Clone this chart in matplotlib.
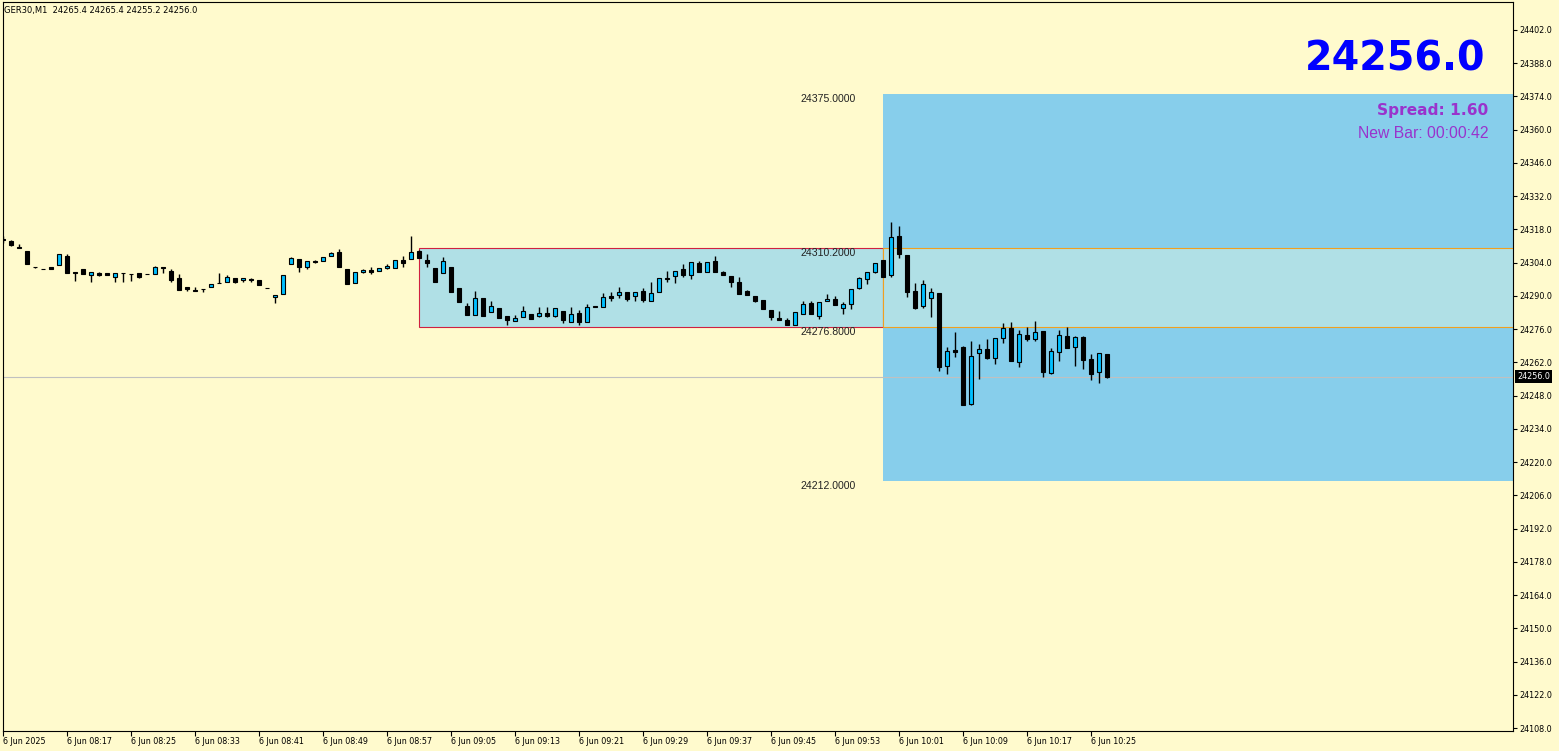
import numpy as np
import matplotlib
matplotlib.use('Agg')
import matplotlib.pyplot as plt
from matplotlib.patches import Rectangle
from matplotlib.transforms import blended_transform_factory, ScaledTranslation

W, H = 1559, 751
BG = '#FFFACD'
BULL = '#00BFFF'

symbol = 'GER30,M1'
time_labels = ['6 Jun 2025', '6 Jun 08:17', '6 Jun 08:25', '6 Jun 08:33', '6 Jun 08:41',
               '6 Jun 08:49', '6 Jun 08:57', '6 Jun 09:05', '6 Jun 09:13', '6 Jun 09:21',
               '6 Jun 09:29', '6 Jun 09:37', '6 Jun 09:45', '6 Jun 09:53', '6 Jun 10:01',
               '6 Jun 10:09', '6 Jun 10:17', '6 Jun 10:25']

# M1 candles, 08:09 .. 10:27
opens = [24313.8, 24313.1, 24310.4, 24308.9, 24302.1, 24301.4, 24302.2, 24302.9, 24306.8, 24300.0,
         24301.2, 24298.7, 24299.8, 24299.6, 24297.8, 24299.6, 24299.2, 24299.6, 24299.3, 24299.1,
         24302.0, 24300.5, 24297.5, 24293.6, 24292.5, 24292.9, 24293.6, 24295.3, 24295.7, 24297.4,
         24296.6, 24297.0, 24296.7, 24293.2, 24289.4, 24290.7, 24303.3, 24305.4, 24302.0, 24304.7,
         24304.6, 24306.7, 24308.5, 24301.2, 24295.3, 24299.9, 24300.9, 24300.3, 24301.5, 24301.6,
         24305.1, 24305.3, 24309.0, 24305.1, 24301.6, 24299.5, 24302.3, 24293.2, 24285.7, 24281.9,
         24288.9, 24283.1, 24285.0, 24281.4, 24279.3, 24281.2, 24282.4, 24281.4, 24282.6, 24281.5,
         24283.6, 24278.9, 24282.6, 24278.9, 24285.7, 24285.4, 24289.9, 24290.2, 24291.5, 24289.8,
         24292.0, 24287.6, 24291.8, 24297.5, 24298.2, 24301.2, 24298.8, 24303.7, 24300.2, 24304.7,
         24300.2, 24298.4, 24295.6, 24292.1, 24289.9, 24288.1, 24284.0, 24280.7, 24279.7, 24277.7,
         24282.2, 24287.1, 24281.5, 24287.6, 24288.5, 24284.7, 24286.4, 24293.2, 24297.0, 24300.2,
         24305.1, 24298.7, 24315.2, 24307.2, 24292.1, 24285.5, 24289.0, 24291.1, 24260.3, 24267.2,
         24268.5, 24244.6, 24265.7, 24267.5, 24264.0, 24272.4, 24276.5, 24262.3, 24273.5, 24271.6,
         24275.2, 24257.5, 24266.5, 24273.1, 24268.3, 24272.7, 24263.4, 24257.7, 24265.4]
highs = [24315.0, 24313.3, 24311.9, 24308.9, 24302.1, 24301.4, 24302.2, 24307.6, 24307.6, 24300.0,
         24301.2, 24299.9, 24300.2, 24299.6, 24299.6, 24299.6, 24299.2, 24299.6, 24299.3, 24302.6,
         24302.0, 24301.2, 24299.1, 24293.6, 24293.6, 24292.9, 24294.9, 24299.8, 24298.7, 24297.4,
         24297.4, 24297.4, 24296.7, 24293.2, 24290.2, 24298.8, 24306.4, 24305.4, 24304.6, 24305.1,
         24306.2, 24308.6, 24309.6, 24301.2, 24299.9, 24301.3, 24302.0, 24301.6, 24303.4, 24305.0,
         24306.8, 24315.2, 24309.2, 24307.6, 24301.6, 24306.5, 24302.3, 24293.2, 24287.1, 24292.2,
         24288.9, 24287.8, 24285.0, 24281.4, 24281.8, 24285.7, 24282.4, 24285.2, 24285.2, 24284.7,
         24283.6, 24285.2, 24284.0, 24286.6, 24285.7, 24291.1, 24291.5, 24293.6, 24291.5, 24291.5,
         24293.2, 24295.7, 24297.4, 24300.5, 24300.6, 24303.3, 24304.1, 24304.8, 24304.1, 24306.8,
         24300.6, 24298.4, 24297.8, 24292.5, 24289.9, 24288.1, 24284.0, 24283.6, 24280.5, 24283.3,
         24288.0, 24287.8, 24287.3, 24290.8, 24289.7, 24287.3, 24292.8, 24297.8, 24299.9, 24303.7,
         24305.1, 24321.0, 24319.4, 24307.2, 24295.3, 24296.7, 24293.2, 24291.1, 24268.6, 24274.8,
         24268.9, 24271.0, 24269.8, 24271.8, 24272.1, 24278.4, 24278.9, 24275.4, 24276.9, 24279.4,
         24275.2, 24267.9, 24275.5, 24276.9, 24273.0, 24273.1, 24265.5, 24265.8, 24265.4]
lows = [24312.1, 24311.0, 24310.1, 24303.3, 24301.9, 24301.2, 24301.2, 24302.9, 24299.5, 24296.4,
        24299.1, 24296.0, 24298.5, 24298.7, 24295.7, 24296.0, 24296.4, 24297.4, 24299.2, 24299.1,
        24299.5, 24296.0, 24292.6, 24292.2, 24291.9, 24291.8, 24293.6, 24295.3, 24295.7, 24295.3,
        24296.0, 24296.0, 24294.7, 24293.2, 24287.1, 24290.7, 24303.3, 24300.2, 24301.2, 24303.7,
        24304.6, 24306.7, 24302.3, 24294.9, 24295.3, 24299.5, 24299.2, 24300.3, 24301.2, 24301.6,
        24302.3, 24305.3, 24305.8, 24302.0, 24296.0, 24299.5, 24291.8, 24287.3, 24281.7, 24281.9,
        24281.6, 24283.1, 24280.8, 24277.7, 24279.3, 24281.2, 24280.4, 24281.0, 24281.0, 24281.0,
        24278.4, 24278.9, 24277.7, 24278.9, 24285.2, 24285.4, 24287.6, 24289.0, 24287.6, 24287.8,
        24287.3, 24287.6, 24291.8, 24296.0, 24295.3, 24297.7, 24297.0, 24299.9, 24300.2, 24299.9,
        24298.8, 24293.6, 24290.7, 24290.2, 24287.3, 24284.3, 24279.6, 24279.7, 24277.7, 24277.7,
        24282.2, 24282.2, 24280.4, 24287.6, 24286.2, 24282.2, 24284.3, 24292.8, 24294.9, 24299.8,
        24298.1, 24297.7, 24305.7, 24289.3, 24284.5, 24285.0, 24281.2, 24258.4, 24257.1, 24264.1,
        24244.0, 24244.1, 24255.1, 24263.4, 24261.3, 24270.3, 24262.7, 24259.8, 24271.0, 24271.0,
        24256.0, 24257.1, 24262.7, 24268.2, 24260.6, 24259.2, 24254.6, 24253.4, 24255.2]
closes = [24313.6, 24311.2, 24310.2, 24303.3, 24302.0, 24301.3, 24301.2, 24307.6, 24299.5, 24299.7,
          24299.1, 24299.9, 24298.9, 24298.7, 24299.6, 24299.4, 24299.0, 24297.8, 24299.2, 24302.0,
          24301.5, 24296.7, 24292.6, 24293.0, 24291.9, 24292.8, 24294.9, 24295.3, 24297.8, 24296.0,
          24297.4, 24296.5, 24294.7, 24293.2, 24290.2, 24298.8, 24305.9, 24302.3, 24304.6, 24304.1,
          24306.2, 24308.1, 24302.3, 24294.9, 24299.9, 24300.9, 24300.2, 24301.6, 24302.6, 24305.0,
          24304.0, 24308.4, 24305.8, 24303.7, 24296.0, 24304.8, 24291.8, 24287.3, 24281.7, 24288.9,
          24281.6, 24285.7, 24280.8, 24279.6, 24280.8, 24283.6, 24280.4, 24282.8, 24281.5, 24284.7,
          24279.8, 24282.4, 24278.9, 24285.2, 24285.2, 24289.4, 24289.1, 24291.5, 24288.8, 24291.5,
          24288.3, 24291.1, 24297.4, 24296.9, 24300.6, 24298.9, 24304.1, 24299.9, 24304.1, 24299.9,
          24298.8, 24295.7, 24290.7, 24290.2, 24288.0, 24284.3, 24281.2, 24279.7, 24277.7, 24283.3,
          24286.4, 24282.2, 24287.3, 24288.5, 24286.2, 24286.4, 24292.8, 24297.4, 24299.9, 24303.7,
          24298.1, 24314.7, 24307.4, 24291.8, 24285.0, 24294.9, 24291.6, 24259.8, 24266.8, 24266.5,
          24244.2, 24264.7, 24267.5, 24264.0, 24272.1, 24276.3, 24262.7, 24273.8, 24271.6, 24274.6,
          24258.1, 24266.7, 24273.4, 24268.2, 24272.7, 24263.1, 24257.2, 24265.8, 24256.0]

box_hi, box_lo = 24310.2, 24276.8
range_hi, range_lo = 24375.0, 24212.0
box_start, box_end = 52, 110
last_price = 24256.0
spread = 1.60
new_bar = '00:00:42'
price_ticks = list(range(24108, 24403, 14))

fig = plt.figure(figsize=(W / 100, H / 100), dpi=100, facecolor=BG)
ax = fig.add_axes([2.7 / W, 1 - 730.5 / H, (1513 - 2.7) / W, (730.5 - 2) / H])
ax.set_facecolor(BG)
ax.set_xlim(-0.04, 188.75)
ax.set_ylim(24106.95, 24413.7)

# zones
ax.add_patch(Rectangle((box_end, range_lo), 200, range_hi - range_lo,
                       fc='#87CEEB', ec='none', zorder=0.5))
ax.add_patch(Rectangle((box_end, box_lo), 200, box_hi - box_lo,
                       fc='#B0E0E6', ec='#F0A020', lw=0.8, zorder=0.7))
ax.add_patch(Rectangle((box_start, box_lo), box_end - box_start, box_hi - box_lo,
                       fc='#B0E0E6', ec='#D02040', lw=0.8, zorder=0.6))
ax.axhline(last_price, color='#C0C0C0', lw=0.8, zorder=1)

lbl_x = 106.6
for v in (range_hi, box_hi, box_lo, range_lo):
    ax.text(lbl_x, v, f'{v:.4f}', ha='right', va='top', fontsize=7.6,
            family='Liberation Sans', color='#222222', zorder=2)

# candles
x = np.arange(len(opens))
o = np.array(opens)
c = np.array(closes)
up = c >= o
body_lo = np.minimum(o, c)
body_h = np.abs(c - o)
ax.vlines(x, lows, highs, color='black', lw=1.0, zorder=3)
ax.bar(x[up], body_h[up], bottom=body_lo[up], width=0.52, color=BULL,
       edgecolor='black', lw=0.8, zorder=4)
ax.bar(x[~up], body_h[~up], bottom=body_lo[~up], width=0.52, color='black',
       edgecolor='black', lw=0.8, zorder=4)

# axes
ax.yaxis.set_ticks_position('right')
ax.set_yticks(price_ticks)
ax.set_yticklabels([f'{v:.1f}' for v in price_ticks])
ax.tick_params(axis='y', direction='out', length=3, width=0.8, pad=1.8, labelsize=5.8)
ax.set_xticks(np.arange(0, len(opens), 8))
ax.set_xticklabels(time_labels, ha='left')
ax.tick_params(axis='x', direction='out', length=3.5, width=0.8, pad=1.5, labelsize=5.8)
for s in ax.spines.values():
    s.set_linewidth(0.8)
    s.set_color('black')

tr = blended_transform_factory(ax.transAxes, ax.transData) + \
    ScaledTranslation(4 / 100, 0, fig.dpi_scale_trans)
ax.text(1.0, last_price, f'{last_price:.1f}', transform=tr, ha='left', va='center',
        fontsize=5.8, color='white', zorder=10, clip_on=False,
        bbox=dict(boxstyle='square,pad=0.3', fc='black', ec='none'))

# header and info
fig.text(4 / W, 1 - 11 / H, f'{symbol}  {opens[-1]:.1f} {highs[-1]:.1f} {lows[-1]:.1f} {closes[-1]:.1f}',
         ha='left', va='center', fontsize=6.0, color='black')
fig.text(1485 / W, 1 - 70.7 / H, f'{last_price:.1f}', ha='right', va='baseline',
         fontsize=28.5, fontweight='bold', color='#0000FF')
fig.text(1488 / W, 1 - 115 / H, f'Spread: {spread:.2f}', ha='right', va='baseline',
         fontsize=11.1, fontweight='bold', color='#9933CC')
fig.text(1488 / W, 1 - 138.3 / H, f'New Bar: {new_bar}', ha='right', va='baseline',
         fontsize=11.3, family='Liberation Sans', color='#9933CC')

fig.savefig('out.png', dpi=100, facecolor=BG)
